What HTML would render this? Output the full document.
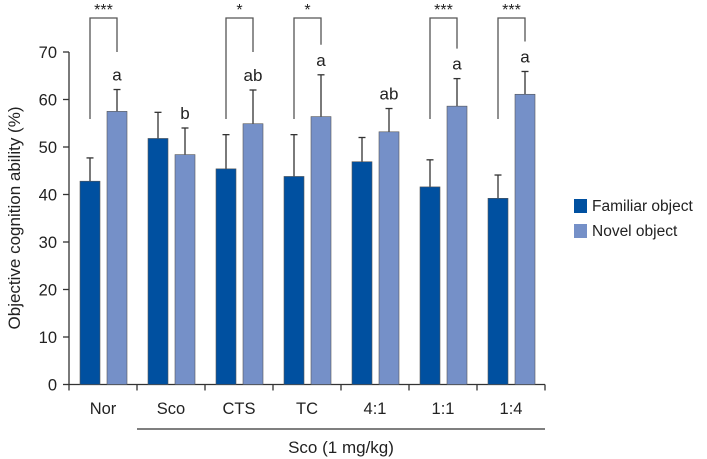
<!DOCTYPE html>
<html><head><meta charset="utf-8"><style>
body{margin:0;background:#fff;}
svg{display:block;font-family:"Liberation Sans",sans-serif;}
</style></head><body>
<svg id="chart" width="707" height="459" viewBox="0 0 707 459" xmlns="http://www.w3.org/2000/svg">
<g id="axes"></g><g id="bars"></g><g id="annot"></g>
<g>
<rect x="574" y="199" width="13" height="14" fill="#0050a0"/>
<text x="592" y="211" font-size="15.5" fill="#222">Familiar object</text>
<rect x="574" y="224" width="13" height="14" fill="#7590c8"/>
<text x="592" y="236" font-size="15.5" fill="#222">Novel object</text>
</g>
</svg>
<script>
const categories=["Nor","Sco","CTS","TC","4:1","1:1","1:4"];
const familiar=[42.8,51.8,45.4,43.8,46.9,41.6,39.2];
const familiarErr=[4.9,5.5,7.2,8.8,5.1,5.7,4.9];
const novel=[57.5,48.4,54.9,56.4,53.2,58.6,61.1];
const novelErr=[4.6,5.6,7.1,8.8,4.9,5.8,4.8];
const letters=["a","b","ab","a","ab","a","a"];
const stars=["***","","*","*","","***","***"];
const yTicks=[0,10,20,30,40,50,60,70];
const NS="http://www.w3.org/2000/svg";
const x0=69,x1=545,gw=(x1-x0)/categories.length;
const y=v=>384.5-4.75*v;
function mk(tag,attrs,parent,txt){const e=document.createElementNS(NS,tag);for(const k in attrs)e.setAttribute(k,attrs[k]);if(txt!==undefined)e.textContent=txt;parent.appendChild(e);return e;}
const axes=document.getElementById('axes'),bars=document.getElementById('bars'),ann=document.getElementById('annot');
let e=mk('line',{x1:x0,y1:y(0),x2:x0,y2:y(70),stroke:'#333','stroke-width':1.3},axes);


e=mk('line',{x1:x0,y1:y(0),x2:x1,y2:y(0),stroke:'#333','stroke-width':1.3},axes);


yTicks.forEach(t=>{
  mk('line',{x1:x0-6,y1:y(t),x2:x0,y2:y(t),stroke:'#333','stroke-width':1.3},axes);
  e=mk('text',{x:x0-12,y:y(t)+6,'text-anchor':'end','font-size':16.5,fill:'#222'},axes,t);
  
  
});
for(let i=0;i<=categories.length;i++)mk('line',{x1:x0+i*gw,y1:y(0),x2:x0+i*gw,y2:y(0)+6,stroke:'#333','stroke-width':1.3},axes);
e=mk('text',{transform:'translate(20,218) rotate(-90)','text-anchor':'middle','font-size':17,fill:'#222'},axes,'Objective cognition ability (%)');


e=mk('line',{x1:x0+gw,y1:429,x2:x1,y2:429,stroke:'#333','stroke-width':1.2},axes);


e=mk('text',{x:(x0+gw+x1)/2,y:453,'text-anchor':'middle','font-size':17,fill:'#222'},axes,'Sco (1 mg/kg)');


categories.forEach((c,i)=>{
  const cx=x0+gw*(i+0.5);
  e=mk('text',{x:cx,y:414,'text-anchor':'middle','font-size':16.5,fill:'#222'},axes,c);
  
  
  const fx=cx-23,nx=cx+4,w=20;
  const fc=y(familiar[i]+familiarErr[i]),nc=y(novel[i]+novelErr[i]);
  mk('line',{x1:fx+w/2,y1:y(familiar[i]),x2:fx+w/2,y2:fc,stroke:'#333','stroke-width':1.3},bars);
  mk('line',{x1:fx+w/2-3.5,y1:fc,x2:fx+w/2+3.5,y2:fc,stroke:'#333','stroke-width':1.3},bars);
  mk('line',{x1:nx+w/2,y1:y(novel[i]),x2:nx+w/2,y2:nc,stroke:'#333','stroke-width':1.3},bars);
  mk('line',{x1:nx+w/2-3.5,y1:nc,x2:nx+w/2+3.5,y2:nc,stroke:'#333','stroke-width':1.3},bars);
  e=mk('rect',{x:fx,y:y(familiar[i]),width:w,height:y(0)-y(familiar[i]),fill:'#0050a0',stroke:'#555','stroke-width':0.6},bars);
  
  
  e=mk('rect',{x:nx,y:y(novel[i]),width:w,height:y(0)-y(novel[i]),fill:'#7590c8',stroke:'#555','stroke-width':0.6},bars);
  
  
  e=mk('text',{x:nx+w/2,y:nc-9,'text-anchor':'middle','font-size':17,fill:'#222'},ann,letters[i]);
  
  
  if(stars[i]){
    const lx=fx+w/2,rx=nx+w/2,re=Math.min(52,nc-30);
    e=mk('polyline',{points:`${lx},119 ${lx},18 ${rx},18 ${rx},${re}`,fill:'none',stroke:'#555','stroke-width':1.3},ann);
    
    
    e=mk('text',{x:(lx+rx)/2,y:15,'text-anchor':'middle','font-size':16,fill:'#222'},ann,stars[i]);
    
    
  }
});
</script>
</body></html>
